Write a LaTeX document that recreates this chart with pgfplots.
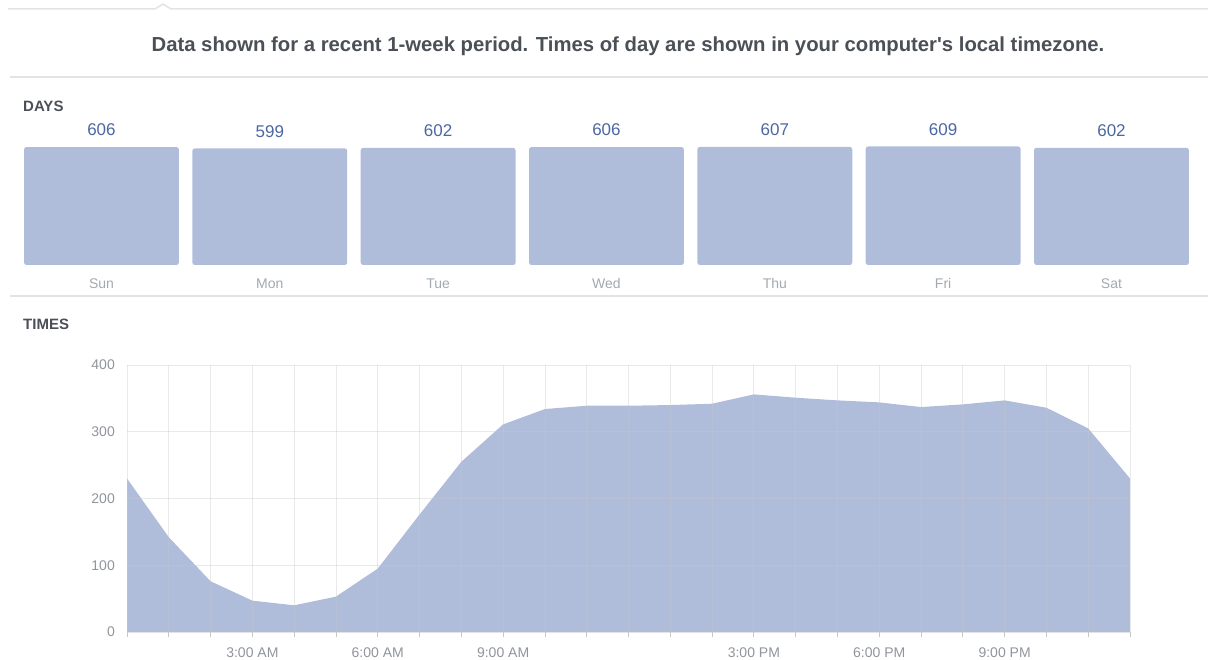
\documentclass[border=0pt]{standalone}
\usepackage{fontspec}
\setmainfont{Liberation Sans}[Ligatures=TeXOff]
\usepackage{pgfplots}
\pgfplotsset{compat=1.18}
\definecolor{fbfill}{HTML}{AFBDDB}
\definecolor{fbblue}{HTML}{4B67A1}
\definecolor{fbtitle}{HTML}{4B4F56}
\definecolor{fbtick}{HTML}{90949C}
\definecolor{fbday}{HTML}{A3A9B0}
\definecolor{fbline}{HTML}{E2E3E6}
\begin{document}
\begin{tikzpicture}
\begin{scope}[x=1pt,y=1pt]
\path[use as bounding box] (0,0) rectangle (1208,659);
\draw[fbline, line width=1.5pt] (8,650) -- (155,650) -- (163,655) -- (171,650) -- (1208,650);
\draw[fbline, line width=1.5pt] (10,582) -- (1208,582);
\draw[fbline, line width=1.5pt] (10,363) -- (1208,363);
\node[anchor=base, font=\fontsize{20.3}{24}\selectfont\bfseries, text=fbtitle, inner sep=0pt] at (628,607) {Data shown for a recent 1-week period. Times of day are shown in your computer's local timezone.};
\node[anchor=base west, font=\fontsize{15}{18}\selectfont\bfseries, text=fbtitle, inner sep=0pt] at (23,547) {DAYS};
\node[anchor=base west, font=\fontsize{15}{18}\selectfont\bfseries, text=fbtitle, inner sep=0pt] at (23,329) {TIMES};
\end{scope}

\begin{axis}[at={(17.3pt,394pt)}, anchor=south west, scale only axis,
  width=1178.4pt, height=120.7pt,
  xmin=-0.5, xmax=6.5, ymin=0, ymax=620,
  axis line style={draw=none}, major tick length=0pt,
  ytick=\empty, xtick={0,...,6},
  xticklabels={Sun,Mon,Tue,Wed,Thu,Fri,Sat},
  xticklabel style={anchor=base, yshift=-24pt, inner sep=0pt, font=\fontsize{14}{16}\selectfont, text=fbday},
  ybar, bar width=0.92,
  nodes near coords,
  nodes near coords style={font=\fontsize{17}{20}\selectfont, text=fbblue, anchor=south, inner sep=0pt, yshift=11pt},
  /pgf/number format/assume math mode=true,
  clip=false]
\addplot[fill=fbfill, draw=none, rounded corners=2.5pt] coordinates {(0,606)(1,599)(2,602)(3,606)(4,607)(5,609)(6,602)};
\end{axis}

\begin{axis}[at={(127pt,27pt)}, anchor=south west, scale only axis,
  width=1003pt, height=267pt,
  xmin=0, xmax=24, ymin=0, ymax=400,
  xtick={0,...,24},
  xticklabels={{},{},{},3:00 AM,{},{},6:00 AM,{},{},9:00 AM,{},{},{},{},{},3:00 PM,{},{},6:00 PM,{},{},9:00 PM,{},{},{}},
  ytick={0,100,200,300,400},
  grid=major, major grid style={draw=black!22, opacity=0.4, line width=0.8pt},
  axis line style={draw=none}, axis on top,
  tick align=outside, xtick pos=left, ytick pos=left,
  major tick length=5pt,
  xtick style={draw=black!22, line width=0.8pt},
  ytick style={draw=none},
  xticklabel style={anchor=base, yshift=-20pt, inner sep=0pt, font=\fontsize{14}{16}\selectfont, text=fbtick},
  yticklabel style={anchor=east, inner sep=0pt, xshift=-7pt, font=\fontsize{14}{16}\selectfont, text=fbtick},
  /pgf/number format/assume math mode=true]
\addplot[fill=fbfill, draw=none] coordinates {(0,230)(1,142)(2,76)(3,47)(4,40)(5,53)(6,95)(7,176)(8,255)(9,311)(10,334)(11,339)(12,339)(13,340)(14,342)(15,356)(16,351)(17,347)(18,344)(19,337)(20,341)(21,347)(22,336)(23,305)(24,230)} \closedcycle;
\end{axis}
\end{tikzpicture}
\end{document}
